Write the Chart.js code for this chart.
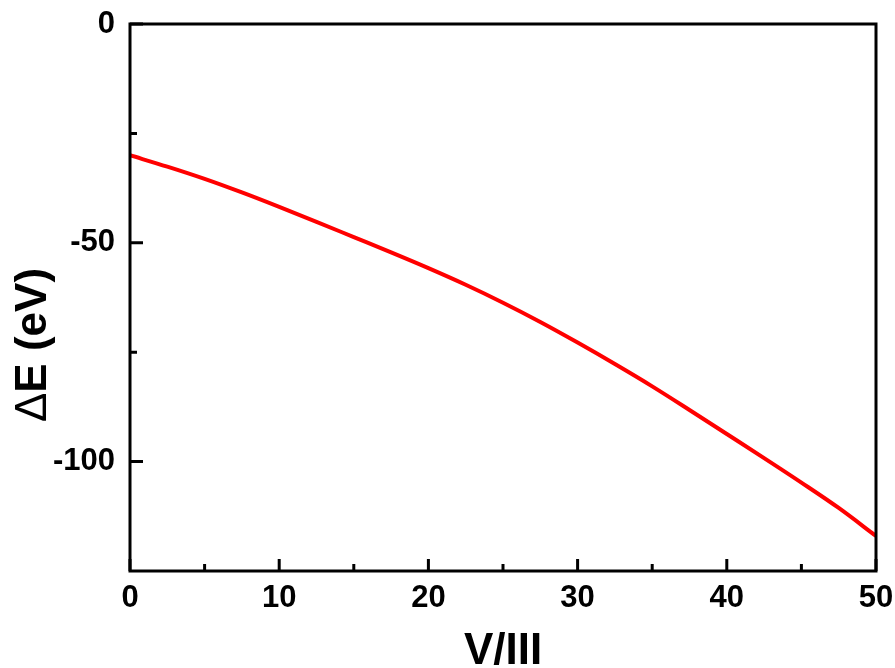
<!DOCTYPE html>
<html>
<head>
<meta charset="utf-8">
<script src="https://cdn.jsdelivr.net/npm/chart.js@4/dist/chart.umd.min.js"></script>
<style>
html,body{margin:0;padding:0;background:#fff;}
#wrap{width:895px;height:668px;}
</style>
</head>
<body>
<div id="wrap"><canvas id="c" width="895" height="668"></canvas></div>
<script>
// ---- data ----
const ratioVIII = [0, 2.5, 5, 7.5, 10, 12.5, 15, 17.5, 20, 22.5, 25, 27.5, 30, 32.5, 35, 37.5, 40, 42.5, 45, 47.5, 50];
const deltaE = [-30.0, -32.6, -35.4, -38.5, -41.8, -45.2, -48.7, -52.2, -55.8, -59.6, -63.7, -68.1, -72.8, -77.7, -82.8, -88.2, -93.7, -99.2, -104.8, -110.6, -117.0];
const xTickLabels = [0, 10, 20, 30, 40, 50];
const xMinorTicks = [5, 15, 25, 35, 45];
const yTickLabels = [0, -50, -100];
const yMinorTicks = [-25, -75];
const xTitle = 'V/III';
const yTitleDelta = 'Δ';
const yTitleRest = 'E (eV)';

const FONT = '"Liberation Sans", Arial, Helvetica, sans-serif';
Chart.defaults.color = '#000';
Chart.defaults.font.family = FONT;

const framePlugin = {
  id: 'frame',
  afterDraw(chart) {
    const ctx = chart.ctx;
    const a = chart.chartArea;
    const xs = chart.scales.x, ys = chart.scales.y;
    ctx.save();
    ctx.strokeStyle = '#000';
    ctx.lineWidth = 3;
    ctx.lineCap = 'butt';
    ctx.strokeRect(a.left, a.top, a.right - a.left, a.bottom - a.top);
    // inward ticks
    ctx.beginPath();
    xTickLabels.forEach(v => { const p = xs.getPixelForValue(v); ctx.moveTo(p, a.bottom); ctx.lineTo(p, a.bottom - 12); });
    xMinorTicks.forEach(v => { const p = xs.getPixelForValue(v); ctx.moveTo(p, a.bottom); ctx.lineTo(p, a.bottom - 7); });
    yTickLabels.forEach(v => { const p = ys.getPixelForValue(v); ctx.moveTo(a.left, p); ctx.lineTo(a.left + 13, p); });
    yMinorTicks.forEach(v => { const p = ys.getPixelForValue(v); ctx.moveTo(a.left, p); ctx.lineTo(a.left + 7, p); });
    ctx.stroke();
    // y title
    ctx.translate(34, 345);
    ctx.rotate(-Math.PI / 2);
    ctx.fillStyle = '#000';
    ctx.textBaseline = 'middle';
    ctx.textAlign = 'left';
    const fN = 'normal 44px ' + FONT, fB = 'bold 44px ' + FONT;
    ctx.font = fN; const w1 = ctx.measureText(yTitleDelta).width;
    ctx.font = fB; const w2 = ctx.measureText(yTitleRest).width;
    const start = -(w1 + w2) / 2;
    ctx.font = fN; ctx.fillText(yTitleDelta, start, 0);
    ctx.font = fB; ctx.fillText(yTitleRest, start + w1, 0);
    ctx.restore();
  }
};

new Chart(document.getElementById('c'), {
  type: 'line',
  data: {
    datasets: [{
      data: ratioVIII.map((x, i) => ({x: x, y: deltaE[i]})),
      borderColor: '#ff0000',
      borderWidth: 4,
      pointRadius: 0,
      cubicInterpolationMode: 'monotone',
      fill: false
    }]
  },
  options: {
    responsive: false,
    animation: false,
    layout: {padding: {top: 24, right: 19, left: 0, bottom: 0}},
    plugins: {legend: {display: false}, tooltip: {enabled: false}},
    scales: {
      x: {
        type: 'linear', min: 0, max: 50,
        grid: {display: false, drawTicks: false},
        border: {display: false},
        ticks: {
          stepSize: 5, autoSkip: false, maxRotation: 0, padding: 9,
          font: {size: 31, weight: 'bold', family: FONT}, color: '#000',
          callback: v => xTickLabels.includes(v) ? String(v) : ''
        },
        title: {display: true, text: xTitle, color: '#000', padding: 0,
          font: {size: 44, weight: 'bold', family: FONT, lineHeight: 0.72}},
        afterFit: s => { s.height = 97; s.paddingLeft = 0; s.paddingRight = 0; }
      },
      y: {
        type: 'linear', min: -125, max: 0,
        grid: {display: false, drawTicks: false},
        border: {display: false},
        ticks: {
          stepSize: 25, autoSkip: false, padding: 15,
          font: {size: 31, weight: 'bold', family: FONT}, color: '#000',
          callback: v => yTickLabels.includes(v) ? String(v) : ''
        },
        afterFit: s => { s.width = 130; s.paddingTop = 0; s.paddingBottom = 0; }
      }
    }
  },
  plugins: [framePlugin]
});
</script>
</body>
</html>
